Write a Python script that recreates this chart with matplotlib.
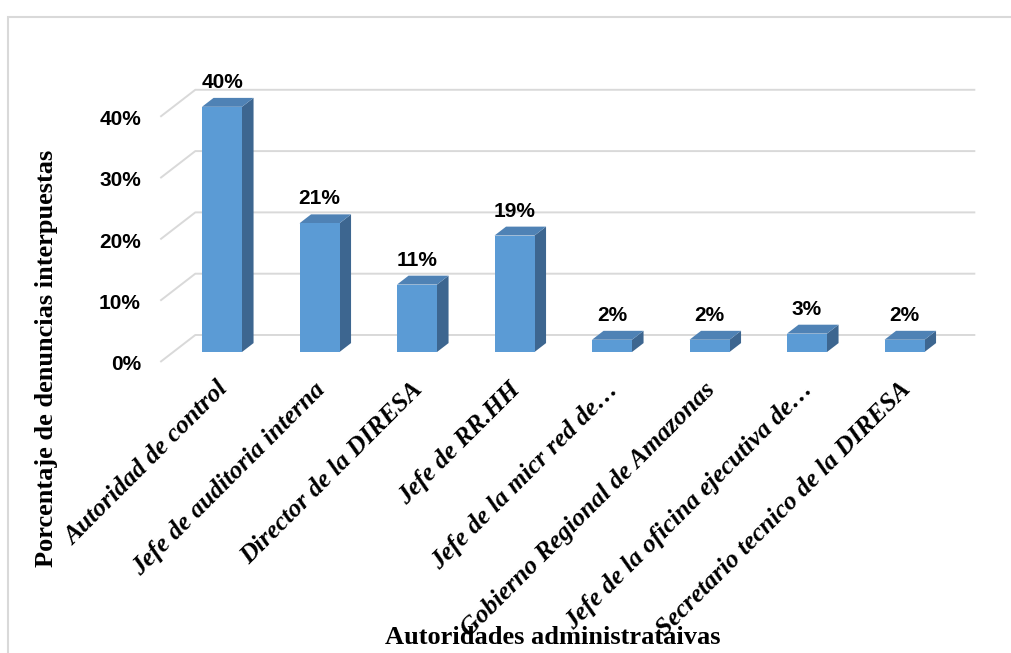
import numpy as np
import matplotlib.pyplot as plt
from matplotlib.patches import Polygon, Rectangle

# datos
categorias = ['Autoridad de control', 'Jefe de auditoria interna',
              'Director de la DIRESA', 'Jefe de RR.HH',
              'Jefe de la micr red de…', 'Gobierno Regional de Amazonas',
              'Jefe de la oficina ejecutiva de…',
              'Secretario tecnico de la DIRESA']
porcentajes = [40, 21, 11, 19, 2, 2, 3, 2]
ticks_y = [0, 10, 20, 30, 40]
etiquetas_y = ['0%', '10%', '20%', '30%', '40%']

# geometria pseudo 3D (estilo Excel)
px_x = 97.5            # pixeles por categoria
px_y = 6.13            # pixeles por punto porcentual
prof_x = 35 / px_x     # desplazamiento de toda la profundidad
prof_y = 27 / px_y
ancho = 40 / px_x
z_barra = 0.33
z_frente = -0.37
z_fondo = 0.63

c_frente = '#5b9bd5'
c_techo = '#4f82b5'
c_lado = '#3d6690'
c_grid = '#d9d9d9'
fuente_num = 'Liberation Sans'


def proy(x, y, z):
    return x + z * prof_x, y + z * prof_y


fig = plt.figure(figsize=(10.11, 6.53), dpi=100)
ax = fig.add_axes([0, 0, 1, 1])
ax.set_xlim(-222 / px_x, (1011 - 222) / px_x)
ax.set_ylim((352 - 653) / px_y, 352 / px_y)
ax.axis('off')

# lineas de cuadricula (pared lateral + fondo)
x0, x1 = -0.5, len(categorias) - 0.5
for v in ticks_y:
    pts = [proy(x0, v, z_frente), proy(x0, v, z_fondo), proy(x1, v, z_fondo)]
    ax.plot([p[0] for p in pts], [p[1] for p in pts], color=c_grid, lw=1.4,
            zorder=1, solid_capstyle='butt')

for v, lab in zip(ticks_y, etiquetas_y):
    ax.text((141 - 222) / px_x, v - 2.1, lab, ha='right', va='center',
            fontsize=15, fontweight='bold', family=fuente_num)

# barras
for i, v in enumerate(porcentajes):
    xl, xr = i - ancho / 2, i + ancho / 2
    frente = [(xl, 0), (xr, 0), (xr, v), (xl, v)]
    techo = [proy(xl, v, 0), proy(xr, v, 0), proy(xr, v, z_barra), proy(xl, v, z_barra)]
    lado = [proy(xr, 0, 0), proy(xr, 0, z_barra), proy(xr, v, z_barra), proy(xr, v, 0)]
    ax.add_patch(Polygon(lado, closed=True, facecolor=c_lado, edgecolor='none', zorder=3))
    ax.add_patch(Polygon(techo, closed=True, facecolor=c_techo, edgecolor='none', zorder=3))
    ax.add_patch(Polygon(frente, closed=True, facecolor=c_frente, edgecolor='none', zorder=4))
    ax.text(i, v + 4.0, f'{v}%', ha='center', va='center', fontsize=15,
            fontweight='bold', family=fuente_num, zorder=5)

# etiquetas de categoria
for i, cat in enumerate(categorias):
    ax.text(i - 6 / px_x, -(378 - 352) / px_y, cat, rotation=45,
            rotation_mode='anchor', ha='right', va='top', fontsize=18.5,
            family='Liberation Serif', fontweight='bold', fontstyle='italic')

ax.text((47 - 222) / px_x, (352 - 358) / px_y,
        'Porcentaje de denuncias interpuestas', rotation=90, ha='center',
        va='center', fontsize=19, family='Liberation Serif', fontweight='bold')
ax.text((553 - 222) / px_x, (352 - 626) / px_y, 'Autoridades administrataivas',
        ha='center', va='top', fontsize=19, family='Liberation Serif',
        fontweight='bold')

# borde del area del grafico
fig.patches.append(Rectangle((8 / 1011, -0.1), 1.2, 1 - 17 / 653 + 0.1,
                             transform=fig.transFigure, fill=False,
                             edgecolor=c_grid, lw=1.5))

fig.savefig('out.png', dpi=100)
